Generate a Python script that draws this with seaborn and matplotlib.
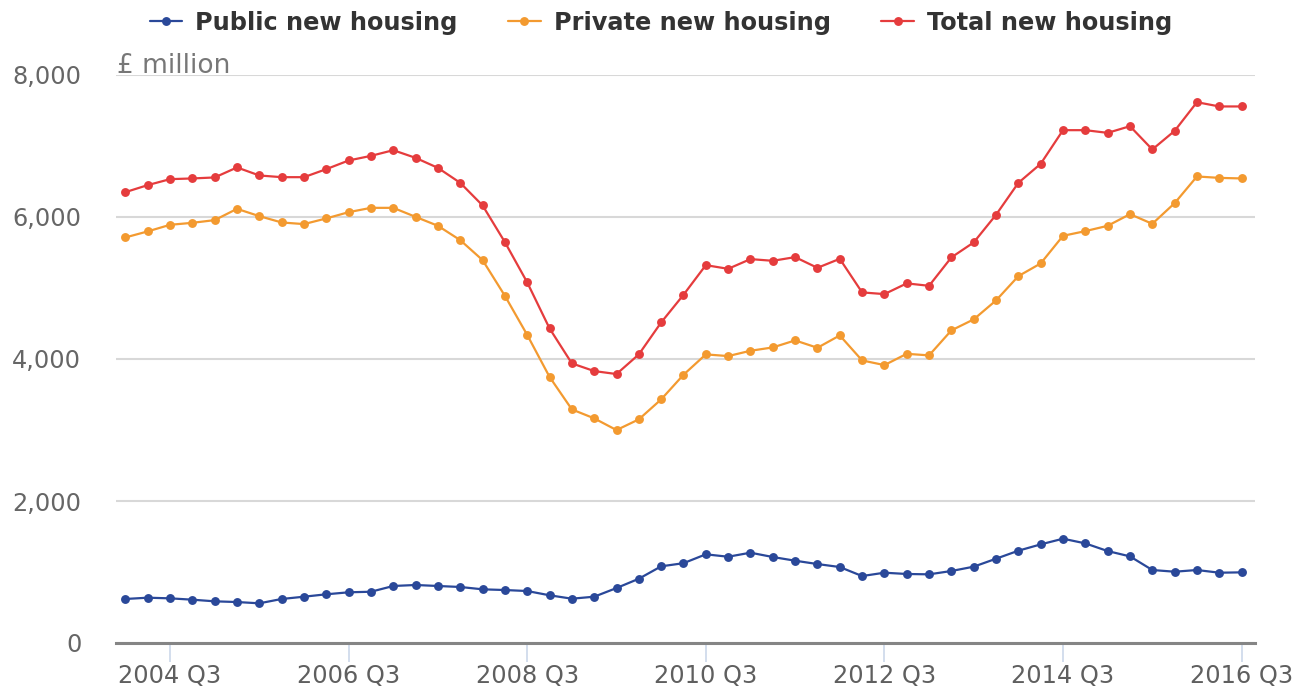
import numpy as np
import pandas as pd
import matplotlib
matplotlib.use("Agg")
import matplotlib.pyplot as plt
import seaborn as sns

# ------------------------
# data (£ million, quarterly 2004 Q1 - 2016 Q3)
# ------------------------
quarters = [str(p) for p in pd.period_range("2004Q1", "2016Q3", freq="Q")]

public_new = [620, 638, 629, 610, 587, 577, 559, 620, 652, 686,
              714, 722, 803, 817, 803, 789, 756, 746, 732, 672,
              624, 652, 774, 905, 1080, 1124, 1249, 1215, 1272, 1211,
              1159, 1112, 1070, 943, 990, 972, 967, 1014, 1075, 1187,
              1300, 1389, 1469, 1403, 1295, 1220, 1028, 1004, 1028, 990,
              995]

private_new = [5712, 5797, 5890, 5918, 5956, 6115, 6012, 5923, 5900, 5980,
               6068, 6129, 6129, 6002, 5876, 5674, 5393, 4890, 4339, 3748,
               3290, 3164, 2999, 3150, 3431, 3778, 4065, 4041, 4116, 4163,
               4262, 4158, 4332, 3980, 3914, 4073, 4051, 4403, 4558, 4825,
               5167, 5346, 5735, 5801, 5876, 6040, 5904, 6195, 6571, 6551,
               6543]

total_new = [6350, 6449, 6533, 6543, 6557, 6698, 6585, 6561, 6561, 6674,
             6796, 6861, 6941, 6833, 6692, 6481, 6163, 5646, 5079, 4431,
             3938, 3830, 3788, 4065, 4515, 4904, 5322, 5270, 5407, 5383,
             5435, 5284, 5411, 4938, 4914, 5065, 5031, 5431, 5642, 6031,
             6481, 6749, 7223, 7223, 7185, 7279, 6951, 7213, 7617, 7557,
             7557]

series_names = ["Public new housing", "Private new housing", "Total new housing"]
series_colors = ["#2a4899", "#f39a30", "#e53c3d"]

tick_labels = ["2004 Q3", "2006 Q3", "2008 Q3", "2010 Q3",
               "2012 Q3", "2014 Q3", "2016 Q3"]
y_ticks = [0, 2000, 4000, 6000, 8000]

# long format for seaborn
frames = []
for name, vals in zip(series_names, [public_new, private_new, total_new]):
    frames.append(pd.DataFrame({"pos": np.arange(len(quarters)),
                                "quarter": quarters,
                                "value": vals,
                                "series": name}))
df = pd.concat(frames, ignore_index=True)

# ------------------------
# plot
# ------------------------
sns.set_style("white")
plt.rcParams["font.family"] = ["DejaVu Sans"]

fig = plt.figure(figsize=(13.09, 6.91), dpi=100)
ax = fig.add_axes([116 / 1309, 1 - 643 / 691, (1255 - 116) / 1309, (643 - 75) / 691])

sns.lineplot(data=df, x="pos", y="value", hue="series",
             hue_order=series_names, palette=series_colors,
             marker="o", markersize=6.4, markeredgewidth=0,
             linewidth=1.6, ax=ax, zorder=3)

ax.set_xlim(-0.42, 50.6)
ax.set_ylim(0, 8000)

# grid
ax.set_yticks(y_ticks)
ax.set_yticklabels([f"{v:,}" for v in y_ticks])
ax.grid(axis="y", color="#d8d8d8", linewidth=1.5)
ax.grid(axis="x", visible=False)
ax.set_axisbelow(True)

ax.set_xticks([quarters.index(t.replace(" ", "")) for t in tick_labels])
ax.set_xticklabels(tick_labels)

ax.tick_params(axis="y", left=False, length=0, pad=25, labelsize=17.3,
               labelcolor="#666666")
ax.tick_params(axis="x", bottom=True, length=14, width=1.1, color="#c8d4e8",
               pad=1, labelsize=17.3, labelcolor="#5f5f5f")

for side in ["top", "right", "left"]:
    ax.spines[side].set_visible(False)
ax.spines["bottom"].set_color("#858585")
ax.spines["bottom"].set_linewidth(2.2)
ax.spines["bottom"].set_zorder(4)

ax.set_xlabel("")
ax.set_ylabel("")

fig.text(117 / 1309, 1 - 66 / 691, "£ million", fontsize=19,
         color="#777777", va="center", ha="left")

sns.move_legend(ax, "upper center", bbox_to_anchor=(661 / 1309, 1.0),
                bbox_transform=fig.transFigure, ncol=3, frameon=False,
                title=None, handlelength=1.35, handletextpad=0.55,
                columnspacing=2.1, borderaxespad=0.05,
                prop={"weight": "bold", "size": 17.3})
for txt in ax.get_legend().get_texts():
    txt.set_color("#333333")

fig.savefig("out.png", dpi=100)
